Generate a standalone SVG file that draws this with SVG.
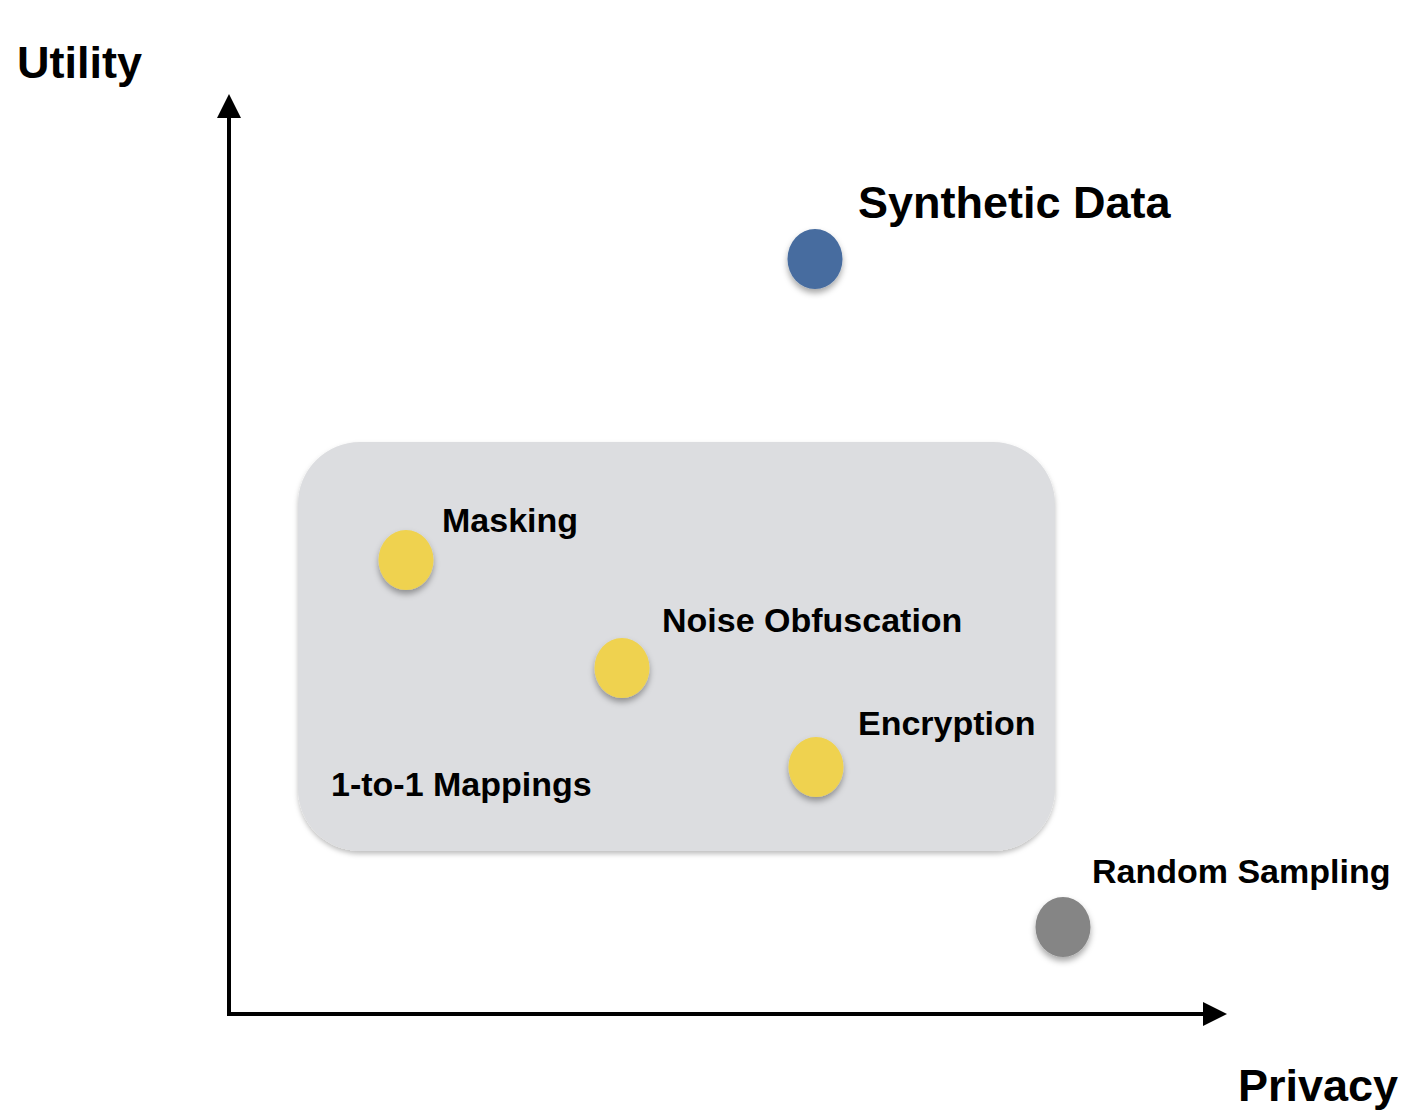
<svg xmlns="http://www.w3.org/2000/svg" width="1422" height="1119" viewBox="0 0 1422 1119">
<style>
text{font-family:"Liberation Sans",Arial,sans-serif;font-weight:bold;fill:#000}
.big{font-size:45px}
.sm{font-size:34px}
.axis{stroke:#000;stroke-width:4;fill:none}
</style>
<defs>
<filter id="sh" x="-30%" y="-30%" width="160%" height="170%">
<feDropShadow dx="0" dy="4" stdDeviation="3" flood-color="#000" flood-opacity="0.35"/>
</filter>
<filter id="rsh" x="-5%" y="-5%" width="110%" height="112%">
<feDropShadow dx="0" dy="3" stdDeviation="2.5" flood-color="#000" flood-opacity="0.25"/>
</filter>
<marker id="ah" markerWidth="6" markerHeight="6" refX="0" refY="3" orient="auto" markerUnits="strokeWidth">
<path d="M0,0 L6,3 L0,6 Z" fill="#000"/>
</marker>
</defs>
<rect width="1422" height="1119" fill="#fff"/>
<g id="region">
<rect x="298" y="442" width="757" height="409" rx="62" ry="62" fill="#dcdde0" filter="url(#rsh)"/>
<text class="sm" x="331" y="796">1-to-1 Mappings</text>
</g>
<g id="connectors">
<line class="axis" x1="229" y1="1014" x2="229" y2="118" marker-end="url(#ah)"/>
<line class="axis" x1="227" y1="1014" x2="1203" y2="1014" marker-end="url(#ah)"/>
</g>
<g id="axis-utility"><text class="big" x="17" y="78">Utility</text></g>
<g id="axis-privacy"><text class="big" x="1238" y="1101">Privacy</text></g>
<g id="synthetic">
<ellipse cx="815" cy="259" rx="27.5" ry="30" fill="#476c9f" filter="url(#sh)"/>
<text class="big" x="858" y="218">Synthetic Data</text>
</g>
<g id="masking">
<ellipse cx="406" cy="560" rx="27.5" ry="30" fill="#efd24f" filter="url(#sh)"/>
<text class="sm" x="442" y="532">Masking</text>
</g>
<g id="noise">
<ellipse cx="622" cy="668" rx="27.5" ry="30" fill="#efd24f" filter="url(#sh)"/>
<text class="sm" x="662" y="632">Noise Obfuscation</text>
</g>
<g id="encryption">
<ellipse cx="816" cy="767" rx="27.5" ry="30" fill="#efd24f" filter="url(#sh)"/>
<text class="sm" x="858" y="735">Encryption</text>
</g>
<g id="random">
<ellipse cx="1063" cy="927" rx="27.5" ry="30" fill="#858585" filter="url(#sh)"/>
<text class="sm" x="1092" y="883">Random Sampling</text>
</g>
</svg>
